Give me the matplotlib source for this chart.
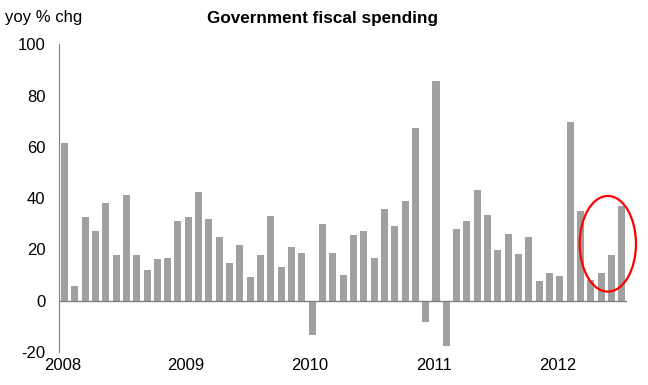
import matplotlib.pyplot as plt
import numpy as np
from matplotlib.patches import Ellipse

plt.rcParams["font.family"] = ["Liberation Sans", "DejaVu Sans"]

# monthly yoy % change, Jan 2008 - Jul 2012
values = [
    61.4, 5.6, 32.6, 27.0, 38.1, 17.7, 41.3, 17.9, 11.9, 16.2, 16.6, 30.9,
    32.6, 42.3, 31.7, 24.7, 14.7, 21.7, 9.4, 17.8, 33.2, 13.1, 21.0, 18.6,
    -13.2, 30.0, 18.6, 9.9, 25.7, 27.0, 16.6, 35.8, 29.0, 38.8, 67.5, -8.4,
    85.7, -17.5, 28.1, 31.2, 43.2, 33.5, 19.7, 26.2, 18.4, 24.7, 7.7, 11.0,
    9.7, 69.7, 35.1, 8.2, 10.8, 17.9, 37.1,
]
year_labels = ["2008", "2009", "2010", "2011", "2012"]
yticks = [-20, 0, 20, 40, 60, 80, 100]

fig = plt.figure(figsize=(6.48, 3.85), dpi=100)
ax = fig.add_axes([0.0915, 0.0857, 0.876, 0.7993])

x = np.arange(len(values))
ax.bar(x, values, width=0.68, color="#a0a0a0", zorder=2)

ax.set_xlim(-0.5, len(values) - 0.5)
ax.set_ylim(-20, 100)
ax.set_yticks(yticks)
ax.set_yticklabels([str(t) for t in yticks], fontsize=12)
ax.tick_params(axis="y", length=0, pad=10)

# years labelled at each January, drawn under the plot
for i, lab in enumerate(year_labels):
    ax.text(i * 12 - 0.2, -22.5, lab, ha="center", va="top", fontsize=12)
ax.set_xticks([])

for s in ["top", "right", "bottom"]:
    ax.spines[s].set_visible(False)
ax.spines["left"].set_color("#808080")
ax.axhline(0, color="#808080", lw=1, zorder=3)

# highlight the latest months
ax.add_patch(Ellipse((52.65, 22.2), 5.45, 37.3, fill=False,
                     edgecolor="#ff0000", lw=1.6, zorder=4, clip_on=False))

fig.text(0.008, 0.955, "yoy % chg", fontsize=12, va="center")
fig.text(0.497, 0.953, "Government fiscal spending", fontsize=12.3,
         fontweight="bold", ha="center", va="center")

fig.savefig("out.png", dpi=100)
